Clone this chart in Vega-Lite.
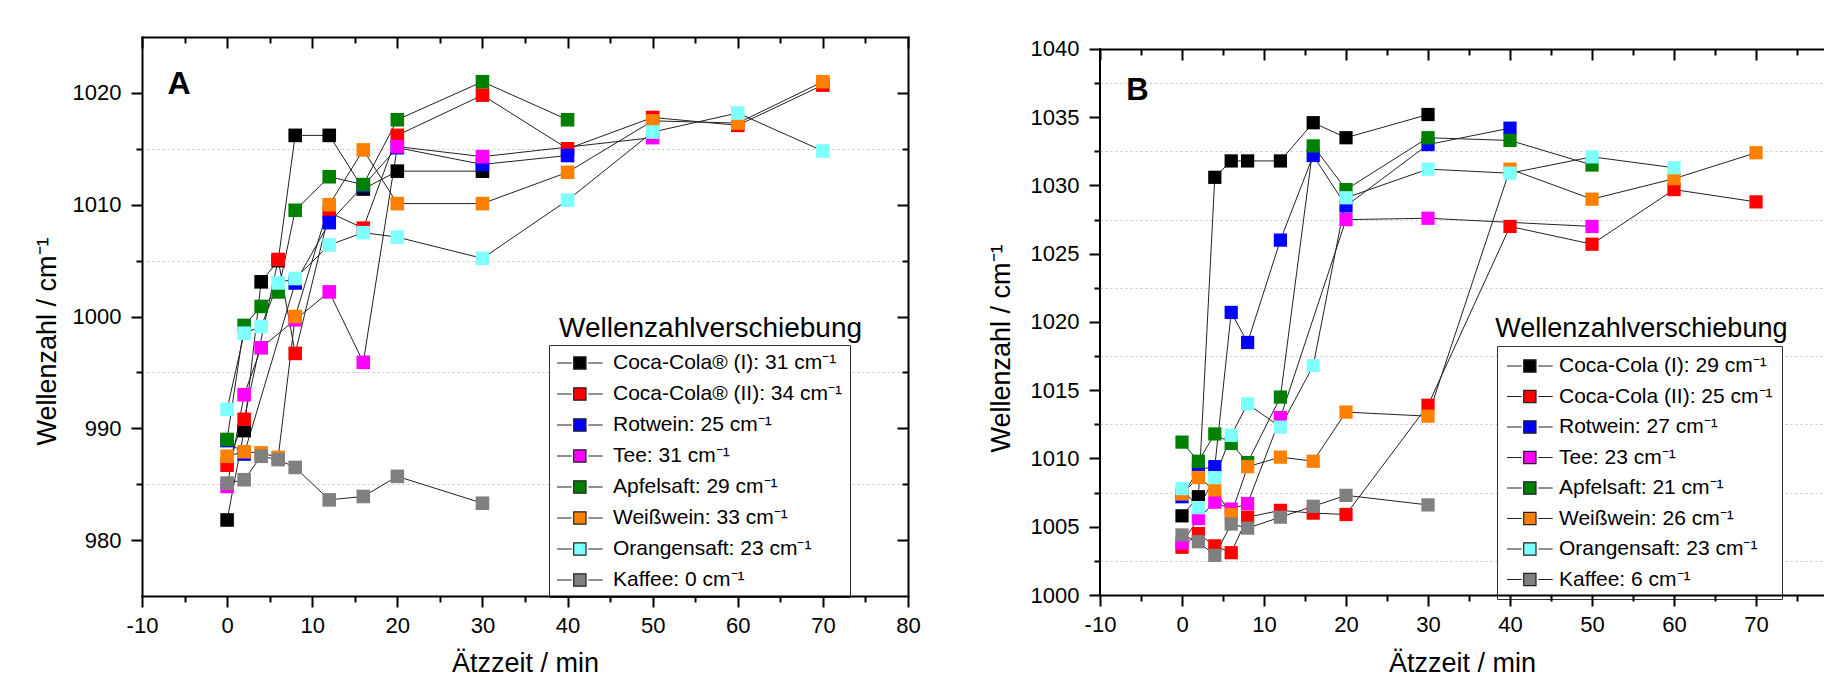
{
  "$schema": "https://vega.github.io/schema/vega-lite/v6.json",
  "usermeta": {"embedOptions": {"actions": false}},
  "background": "white",
  "padding": {"left": 33, "top": 36, "right": 0, "bottom": 0},
  "spacing": 66,
  "bounds": "full",
  "config": {
    "view": {"stroke": null},
    "font": "Liberation Sans",
    "axis": {
      "labelFont": "Liberation Sans", "titleFont": "Liberation Sans",
      "labelColor": "black", "titleColor": "black",
      "domainColor": "black", "domainWidth": 2, "domainCap": "square",
      "tickColor": "black", "tickWidth": 2,
      "labelFontSize": 22, "titleFontSize": 27, "titleFontWeight": "normal",
      "grid": false, "labelOverlap": false, "labelFlush": false
    },
    "legend": {"labelFont": "Liberation Sans"}
  },
  "datasets": {
    "A": [
      {"serie": "Coca-Cola® (I): 31 cm⁻¹", "t": 0, "v": 981.8},
      {"serie": "Coca-Cola® (I): 31 cm⁻¹", "t": 2, "v": 989.8},
      {"serie": "Coca-Cola® (I): 31 cm⁻¹", "t": 4, "v": 1003.1},
      {"serie": "Coca-Cola® (I): 31 cm⁻¹", "t": 6, "v": 1005.0},
      {"serie": "Coca-Cola® (I): 31 cm⁻¹", "t": 8, "v": 1016.2},
      {"serie": "Coca-Cola® (I): 31 cm⁻¹", "t": 12, "v": 1016.2},
      {"serie": "Coca-Cola® (I): 31 cm⁻¹", "t": 16, "v": 1011.4},
      {"serie": "Coca-Cola® (I): 31 cm⁻¹", "t": 20, "v": 1013.0},
      {"serie": "Coca-Cola® (I): 31 cm⁻¹", "t": 30, "v": 1013.0},
      {"serie": "Coca-Cola® (II): 34 cm⁻¹", "t": 0, "v": 986.7},
      {"serie": "Coca-Cola® (II): 34 cm⁻¹", "t": 2, "v": 990.8},
      {"serie": "Coca-Cola® (II): 34 cm⁻¹", "t": 6, "v": 1005.1},
      {"serie": "Coca-Cola® (II): 34 cm⁻¹", "t": 8, "v": 996.7},
      {"serie": "Coca-Cola® (II): 34 cm⁻¹", "t": 12, "v": 1009.3},
      {"serie": "Coca-Cola® (II): 34 cm⁻¹", "t": 16, "v": 1007.9},
      {"serie": "Coca-Cola® (II): 34 cm⁻¹", "t": 20, "v": 1016.2},
      {"serie": "Coca-Cola® (II): 34 cm⁻¹", "t": 30, "v": 1019.8},
      {"serie": "Coca-Cola® (II): 34 cm⁻¹", "t": 40, "v": 1015.0},
      {"serie": "Coca-Cola® (II): 34 cm⁻¹", "t": 50, "v": 1017.8},
      {"serie": "Coca-Cola® (II): 34 cm⁻¹", "t": 60, "v": 1017.1},
      {"serie": "Coca-Cola® (II): 34 cm⁻¹", "t": 70, "v": 1020.7},
      {"serie": "Rotwein: 25 cm⁻¹", "t": 0, "v": 988.9},
      {"serie": "Rotwein: 25 cm⁻¹", "t": 2, "v": 987.7},
      {"serie": "Rotwein: 25 cm⁻¹", "t": 8, "v": 1003.0},
      {"serie": "Rotwein: 25 cm⁻¹", "t": 12, "v": 1008.4},
      {"serie": "Rotwein: 25 cm⁻¹", "t": 16, "v": 1011.7},
      {"serie": "Rotwein: 25 cm⁻¹", "t": 20, "v": 1015.1},
      {"serie": "Rotwein: 25 cm⁻¹", "t": 30, "v": 1013.6},
      {"serie": "Rotwein: 25 cm⁻¹", "t": 40, "v": 1014.4},
      {"serie": "Tee: 31 cm⁻¹", "t": 0, "v": 984.8},
      {"serie": "Tee: 31 cm⁻¹", "t": 2, "v": 993.0},
      {"serie": "Tee: 31 cm⁻¹", "t": 4, "v": 997.2},
      {"serie": "Tee: 31 cm⁻¹", "t": 8, "v": 999.7},
      {"serie": "Tee: 31 cm⁻¹", "t": 12, "v": 1002.2},
      {"serie": "Tee: 31 cm⁻¹", "t": 16, "v": 995.9},
      {"serie": "Tee: 31 cm⁻¹", "t": 20, "v": 1015.2},
      {"serie": "Tee: 31 cm⁻¹", "t": 30, "v": 1014.3},
      {"serie": "Tee: 31 cm⁻¹", "t": 50, "v": 1016.0},
      {"serie": "Apfelsaft: 29 cm⁻¹", "t": 0, "v": 989.0},
      {"serie": "Apfelsaft: 29 cm⁻¹", "t": 2, "v": 999.2},
      {"serie": "Apfelsaft: 29 cm⁻¹", "t": 4, "v": 1000.9},
      {"serie": "Apfelsaft: 29 cm⁻¹", "t": 6, "v": 1002.2},
      {"serie": "Apfelsaft: 29 cm⁻¹", "t": 8, "v": 1009.5},
      {"serie": "Apfelsaft: 29 cm⁻¹", "t": 12, "v": 1012.5},
      {"serie": "Apfelsaft: 29 cm⁻¹", "t": 16, "v": 1011.8},
      {"serie": "Apfelsaft: 29 cm⁻¹", "t": 20, "v": 1017.6},
      {"serie": "Apfelsaft: 29 cm⁻¹", "t": 30, "v": 1021.0},
      {"serie": "Apfelsaft: 29 cm⁻¹", "t": 40, "v": 1017.6},
      {"serie": "Weißwein: 33 cm⁻¹", "t": 0, "v": 987.5},
      {"serie": "Weißwein: 33 cm⁻¹", "t": 2, "v": 987.9},
      {"serie": "Weißwein: 33 cm⁻¹", "t": 4, "v": 987.8},
      {"serie": "Weißwein: 33 cm⁻¹", "t": 6, "v": 987.4},
      {"serie": "Weißwein: 33 cm⁻¹", "t": 8, "v": 1000.0},
      {"serie": "Weißwein: 33 cm⁻¹", "t": 12, "v": 1010.0},
      {"serie": "Weißwein: 33 cm⁻¹", "t": 16, "v": 1014.9},
      {"serie": "Weißwein: 33 cm⁻¹", "t": 20, "v": 1010.1},
      {"serie": "Weißwein: 33 cm⁻¹", "t": 30, "v": 1010.1},
      {"serie": "Weißwein: 33 cm⁻¹", "t": 40, "v": 1012.9},
      {"serie": "Weißwein: 33 cm⁻¹", "t": 50, "v": 1017.5},
      {"serie": "Weißwein: 33 cm⁻¹", "t": 60, "v": 1017.3},
      {"serie": "Weißwein: 33 cm⁻¹", "t": 70, "v": 1021.0},
      {"serie": "Orangensaft: 23 cm⁻¹", "t": 0, "v": 991.7},
      {"serie": "Orangensaft: 23 cm⁻¹", "t": 2, "v": 998.5},
      {"serie": "Orangensaft: 23 cm⁻¹", "t": 4, "v": 999.1},
      {"serie": "Orangensaft: 23 cm⁻¹", "t": 6, "v": 1003.0},
      {"serie": "Orangensaft: 23 cm⁻¹", "t": 8, "v": 1003.4},
      {"serie": "Orangensaft: 23 cm⁻¹", "t": 12, "v": 1006.4},
      {"serie": "Orangensaft: 23 cm⁻¹", "t": 16, "v": 1007.5},
      {"serie": "Orangensaft: 23 cm⁻¹", "t": 20, "v": 1007.1},
      {"serie": "Orangensaft: 23 cm⁻¹", "t": 30, "v": 1005.2},
      {"serie": "Orangensaft: 23 cm⁻¹", "t": 40, "v": 1010.4},
      {"serie": "Orangensaft: 23 cm⁻¹", "t": 50, "v": 1016.5},
      {"serie": "Orangensaft: 23 cm⁻¹", "t": 60, "v": 1018.2},
      {"serie": "Orangensaft: 23 cm⁻¹", "t": 70, "v": 1014.8},
      {"serie": "Kaffee: 0 cm⁻¹", "t": 0, "v": 985.1},
      {"serie": "Kaffee: 0 cm⁻¹", "t": 2, "v": 985.4},
      {"serie": "Kaffee: 0 cm⁻¹", "t": 4, "v": 987.5},
      {"serie": "Kaffee: 0 cm⁻¹", "t": 6, "v": 987.2},
      {"serie": "Kaffee: 0 cm⁻¹", "t": 8, "v": 986.5},
      {"serie": "Kaffee: 0 cm⁻¹", "t": 12, "v": 983.6},
      {"serie": "Kaffee: 0 cm⁻¹", "t": 16, "v": 983.9},
      {"serie": "Kaffee: 0 cm⁻¹", "t": 20, "v": 985.7},
      {"serie": "Kaffee: 0 cm⁻¹", "t": 30, "v": 983.3}
    ],
    "B": [
      {"serie": "Coca-Cola (I): 29 cm⁻¹", "t": 0, "v": 1005.8},
      {"serie": "Coca-Cola (I): 29 cm⁻¹", "t": 2, "v": 1007.2},
      {"serie": "Coca-Cola (I): 29 cm⁻¹", "t": 4, "v": 1030.6},
      {"serie": "Coca-Cola (I): 29 cm⁻¹", "t": 6, "v": 1031.8},
      {"serie": "Coca-Cola (I): 29 cm⁻¹", "t": 8, "v": 1031.8},
      {"serie": "Coca-Cola (I): 29 cm⁻¹", "t": 12, "v": 1031.8},
      {"serie": "Coca-Cola (I): 29 cm⁻¹", "t": 16, "v": 1034.6},
      {"serie": "Coca-Cola (I): 29 cm⁻¹", "t": 20, "v": 1033.5},
      {"serie": "Coca-Cola (I): 29 cm⁻¹", "t": 30, "v": 1035.2},
      {"serie": "Coca-Cola (II): 25 cm⁻¹", "t": 0, "v": 1003.5},
      {"serie": "Coca-Cola (II): 25 cm⁻¹", "t": 2, "v": 1004.5},
      {"serie": "Coca-Cola (II): 25 cm⁻¹", "t": 4, "v": 1003.6},
      {"serie": "Coca-Cola (II): 25 cm⁻¹", "t": 6, "v": 1003.1},
      {"serie": "Coca-Cola (II): 25 cm⁻¹", "t": 8, "v": 1005.7},
      {"serie": "Coca-Cola (II): 25 cm⁻¹", "t": 12, "v": 1006.2},
      {"serie": "Coca-Cola (II): 25 cm⁻¹", "t": 16, "v": 1006.0},
      {"serie": "Coca-Cola (II): 25 cm⁻¹", "t": 20, "v": 1005.9},
      {"serie": "Coca-Cola (II): 25 cm⁻¹", "t": 30, "v": 1013.9},
      {"serie": "Coca-Cola (II): 25 cm⁻¹", "t": 40, "v": 1027.0},
      {"serie": "Coca-Cola (II): 25 cm⁻¹", "t": 50, "v": 1025.7},
      {"serie": "Coca-Cola (II): 25 cm⁻¹", "t": 60, "v": 1029.7},
      {"serie": "Coca-Cola (II): 25 cm⁻¹", "t": 70, "v": 1028.8},
      {"serie": "Rotwein: 27 cm⁻¹", "t": 0, "v": 1007.2},
      {"serie": "Rotwein: 27 cm⁻¹", "t": 2, "v": 1009.2},
      {"serie": "Rotwein: 27 cm⁻¹", "t": 4, "v": 1009.4},
      {"serie": "Rotwein: 27 cm⁻¹", "t": 6, "v": 1020.7},
      {"serie": "Rotwein: 27 cm⁻¹", "t": 8, "v": 1018.5},
      {"serie": "Rotwein: 27 cm⁻¹", "t": 12, "v": 1026.0},
      {"serie": "Rotwein: 27 cm⁻¹", "t": 16, "v": 1032.2},
      {"serie": "Rotwein: 27 cm⁻¹", "t": 20, "v": 1028.5},
      {"serie": "Rotwein: 27 cm⁻¹", "t": 30, "v": 1033.0},
      {"serie": "Rotwein: 27 cm⁻¹", "t": 40, "v": 1034.2},
      {"serie": "Tee: 23 cm⁻¹", "t": 0, "v": 1003.8},
      {"serie": "Tee: 23 cm⁻¹", "t": 2, "v": 1005.6},
      {"serie": "Tee: 23 cm⁻¹", "t": 4, "v": 1006.8},
      {"serie": "Tee: 23 cm⁻¹", "t": 6, "v": 1006.3},
      {"serie": "Tee: 23 cm⁻¹", "t": 8, "v": 1006.7},
      {"serie": "Tee: 23 cm⁻¹", "t": 12, "v": 1013.0},
      {"serie": "Tee: 23 cm⁻¹", "t": 20, "v": 1027.5},
      {"serie": "Tee: 23 cm⁻¹", "t": 30, "v": 1027.6},
      {"serie": "Tee: 23 cm⁻¹", "t": 50, "v": 1027.0},
      {"serie": "Apfelsaft: 21 cm⁻¹", "t": 0, "v": 1011.2},
      {"serie": "Apfelsaft: 21 cm⁻¹", "t": 2, "v": 1009.8},
      {"serie": "Apfelsaft: 21 cm⁻¹", "t": 4, "v": 1011.8},
      {"serie": "Apfelsaft: 21 cm⁻¹", "t": 6, "v": 1011.1},
      {"serie": "Apfelsaft: 21 cm⁻¹", "t": 8, "v": 1009.7},
      {"serie": "Apfelsaft: 21 cm⁻¹", "t": 12, "v": 1014.5},
      {"serie": "Apfelsaft: 21 cm⁻¹", "t": 16, "v": 1032.9},
      {"serie": "Apfelsaft: 21 cm⁻¹", "t": 20, "v": 1029.7},
      {"serie": "Apfelsaft: 21 cm⁻¹", "t": 30, "v": 1033.5},
      {"serie": "Apfelsaft: 21 cm⁻¹", "t": 40, "v": 1033.3},
      {"serie": "Apfelsaft: 21 cm⁻¹", "t": 50, "v": 1031.5},
      {"serie": "Weißwein: 26 cm⁻¹", "t": 0, "v": 1007.4},
      {"serie": "Weißwein: 26 cm⁻¹", "t": 2, "v": 1008.6},
      {"serie": "Weißwein: 26 cm⁻¹", "t": 4, "v": 1007.7},
      {"serie": "Weißwein: 26 cm⁻¹", "t": 6, "v": 1005.9},
      {"serie": "Weißwein: 26 cm⁻¹", "t": 8, "v": 1009.4},
      {"serie": "Weißwein: 26 cm⁻¹", "t": 12, "v": 1010.1},
      {"serie": "Weißwein: 26 cm⁻¹", "t": 16, "v": 1009.8},
      {"serie": "Weißwein: 26 cm⁻¹", "t": 20, "v": 1013.4},
      {"serie": "Weißwein: 26 cm⁻¹", "t": 30, "v": 1013.1},
      {"serie": "Weißwein: 26 cm⁻¹", "t": 40, "v": 1031.2},
      {"serie": "Weißwein: 26 cm⁻¹", "t": 50, "v": 1029.0},
      {"serie": "Weißwein: 26 cm⁻¹", "t": 60, "v": 1030.5},
      {"serie": "Weißwein: 26 cm⁻¹", "t": 70, "v": 1032.4},
      {"serie": "Orangensaft: 23 cm⁻¹", "t": 0, "v": 1007.8},
      {"serie": "Orangensaft: 23 cm⁻¹", "t": 2, "v": 1006.4},
      {"serie": "Orangensaft: 23 cm⁻¹", "t": 4, "v": 1008.6},
      {"serie": "Orangensaft: 23 cm⁻¹", "t": 6, "v": 1011.7},
      {"serie": "Orangensaft: 23 cm⁻¹", "t": 8, "v": 1014.0},
      {"serie": "Orangensaft: 23 cm⁻¹", "t": 12, "v": 1012.3},
      {"serie": "Orangensaft: 23 cm⁻¹", "t": 16, "v": 1016.8},
      {"serie": "Orangensaft: 23 cm⁻¹", "t": 20, "v": 1029.1},
      {"serie": "Orangensaft: 23 cm⁻¹", "t": 30, "v": 1031.2},
      {"serie": "Orangensaft: 23 cm⁻¹", "t": 40, "v": 1030.9},
      {"serie": "Orangensaft: 23 cm⁻¹", "t": 50, "v": 1032.1},
      {"serie": "Orangensaft: 23 cm⁻¹", "t": 60, "v": 1031.3},
      {"serie": "Kaffee: 6 cm⁻¹", "t": 0, "v": 1004.4},
      {"serie": "Kaffee: 6 cm⁻¹", "t": 2, "v": 1003.9},
      {"serie": "Kaffee: 6 cm⁻¹", "t": 4, "v": 1002.9},
      {"serie": "Kaffee: 6 cm⁻¹", "t": 6, "v": 1005.2},
      {"serie": "Kaffee: 6 cm⁻¹", "t": 8, "v": 1004.9},
      {"serie": "Kaffee: 6 cm⁻¹", "t": 12, "v": 1005.7},
      {"serie": "Kaffee: 6 cm⁻¹", "t": 16, "v": 1006.5},
      {"serie": "Kaffee: 6 cm⁻¹", "t": 20, "v": 1007.3},
      {"serie": "Kaffee: 6 cm⁻¹", "t": 30, "v": 1006.6}
    ]
  },
  "hconcat": [
    {
      "width": 766,
      "height": 559,
      "data": {"name": "A"},
      "resolve": {"axis": {"x": "independent", "y": "independent"}},
      "layer": [
        {
          "mark": {"type": "line", "color": "#222222", "strokeWidth": 1, "clip": true},
          "encoding": {
            "x": {"field": "t", "type": "quantitative", "scale": {"domain": [-10, 80], "nice": false, "zero": false},
              "axis": {"orient": "bottom", "zindex": 1, "values": [-10, -5, 0, 5, 10, 15, 20, 25, 30, 35, 40, 45, 50, 55, 60, 65, 70, 75, 80],
                "labelExpr": "datum.value % 10 === 0 ? '' + datum.value : ''",
                "tickSize": {"condition": {"test": "datum.value % 10 === 0", "value": 11}, "value": 6},
                "labelPadding": 8, "title": "Ätzzeit / min", "titleY": 75, "titleBaseline": "alphabetic"}},
            "y": {"field": "v", "type": "quantitative", "scale": {"domain": [975, 1025], "nice": false, "zero": false},
              "axis": {"orient": "left", "values": [980, 985, 990, 995, 1000, 1005, 1010, 1015, 1020],
                "labelExpr": "datum.value % 10 === 0 ? '' + datum.value : ''",
                "tickSize": {"condition": {"test": "datum.value % 10 === 0", "value": 11}, "value": 6},
                "labelPadding": 10, "grid": true, "gridColor": "#c4c4c4", "gridDash": [2, 3], "gridWidth": 1,
                "gridOpacity": {"condition": {"test": "datum.value % 10 === 0", "value": 0}, "value": 1},
                "title": "Wellenzahl / cm⁻¹", "titleX": -81, "titleY": 304}},
            "detail": {"field": "serie"}
          }
        },
        {
          "mark": {"type": "point", "shape": "square", "filled": true, "size": 185, "opacity": 1},
          "encoding": {
            "x": {"field": "t", "type": "quantitative", "scale": {"domain": [-10, 80], "nice": false, "zero": false},
              "axis": {"orient": "top", "values": [-10, -5, 0, 5, 10, 15, 20, 25, 30, 35, 40, 45, 50, 55, 60, 65, 70, 75, 80],
                "labels": false, "title": null,
                "tickSize": {"condition": {"test": "datum.value % 10 === 0", "value": -11}, "value": -6}}},
            "y": {"field": "v", "type": "quantitative", "scale": {"domain": [975, 1025], "nice": false, "zero": false},
              "axis": {"orient": "right", "values": [980, 985, 990, 995, 1000, 1005, 1010, 1015, 1020],
                "labels": false, "title": null,
                "tickSize": {"condition": {"test": "datum.value % 10 === 0", "value": -11}, "value": -6}}},
            "color": {"field": "serie", "type": "nominal",
              "scale": {"domain": ["Coca-Cola® (I): 31 cm⁻¹", "Coca-Cola® (II): 34 cm⁻¹", "Rotwein: 25 cm⁻¹", "Tee: 31 cm⁻¹", "Apfelsaft: 29 cm⁻¹", "Weißwein: 33 cm⁻¹", "Orangensaft: 23 cm⁻¹", "Kaffee: 0 cm⁻¹"],
                "range": ["#000000", "#ff0000", "#0000ff", "#ff00ff", "#008000", "#ff8000", "#80ffff", "#808080"]},
              "legend": {"orient": "none", "legendX": 407, "legendY": 308, "title": null,
                "symbolType": "M-1,0H0.47M2.13,0H3.57M0.67,-0.615H1.9V0.615H0.67Z", "symbolSize": 400,
                "symbolStrokeColor": "#222222", "symbolStrokeWidth": 1.2, "symbolOpacity": 1,
                "labelFontSize": 21, "labelColor": "black", "labelLimit": 400, "labelOffset": 35,
                "rowPadding": 10, "padding": 7, "strokeColor": "#333333", "fillColor": "white"}}
          }
        },
        {
          "data": {"values": [{"k": "A"}]},
          "mark": {"type": "text", "text": "A", "font": "Liberation Sans", "fontSize": 32, "fontWeight": "bold", "align": "left", "baseline": "alphabetic", "color": "black"},
          "encoding": {
            "x": {"datum": -7, "type": "quantitative", "axis": null},
            "y": {"datum": 1019.9, "type": "quantitative", "axis": null}
          }
        },
        {
          "data": {"values": [{"k": "t"}]},
          "mark": {"type": "text", "text": "Wellenzahlverschiebung", "font": "Liberation Sans", "fontSize": 28, "align": "left", "baseline": "alphabetic", "color": "black"},
          "encoding": {
            "x": {"datum": 39.0, "type": "quantitative", "axis": null},
            "y": {"datum": 998.2, "type": "quantitative", "axis": null}
          }
        }
      ]
    },
    {
      "width": 724,
      "height": 558,
      "data": {"name": "B"},
      "resolve": {"axis": {"x": "independent", "y": "independent"}},
      "layer": [
        {
          "mark": {"type": "line", "color": "#222222", "strokeWidth": 1, "clip": true},
          "encoding": {
            "x": {"field": "t", "type": "quantitative", "scale": {"domain": [-10, 78.29], "nice": false, "zero": false},
              "axis": {"orient": "bottom", "zindex": 1, "values": [-10, -5, 0, 5, 10, 15, 20, 25, 30, 35, 40, 45, 50, 55, 60, 65, 70, 75],
                "labelExpr": "datum.value % 10 === 0 ? '' + datum.value : ''",
                "tickSize": {"condition": {"test": "datum.value % 10 === 0", "value": 11}, "value": 6},
                "labelPadding": 8, "title": "Ätzzeit / min", "titleY": 76, "titleBaseline": "alphabetic"}},
            "y": {"field": "v", "type": "quantitative", "scale": {"domain": [1000, 1040.879], "nice": false, "zero": false},
              "axis": {"orient": "left", "domain": false, "values": [1000, 1002.5, 1005, 1007.5, 1010, 1012.5, 1015, 1017.5, 1020, 1022.5, 1025, 1027.5, 1030, 1032.5, 1035, 1037.5, 1040],
                "labelExpr": "datum.value % 5 === 0 ? '' + datum.value : ''",
                "tickSize": {"condition": {"test": "datum.value % 5 === 0", "value": 11}, "value": 6},
                "labelPadding": 10, "grid": true, "gridColor": "#c4c4c4", "gridDash": [2, 3], "gridWidth": 1,
                "gridOpacity": {"condition": {"test": "datum.value % 5 === 0", "value": 0}, "value": 1},
                "title": "Wellenzahl / cm⁻¹", "titleX": -85, "titleY": 311}},
            "detail": {"field": "serie"}
          }
        },
        {
          "mark": {"type": "point", "shape": "square", "filled": true, "size": 175, "opacity": 1},
          "encoding": {
            "x": {"field": "t", "type": "quantitative", "scale": {"domain": [-10, 78.29], "nice": false, "zero": false},
              "axis": {"orient": "top", "offset": -12, "values": [-10, -5, 0, 5, 10, 15, 20, 25, 30, 35, 40, 45, 50, 55, 60, 65, 70, 75],
                "labels": false, "title": null,
                "tickSize": {"condition": {"test": "datum.value % 10 === 0", "value": -11}, "value": -6}}},
            "y": {"field": "v", "type": "quantitative", "scale": {"domain": [1000, 1040.879], "nice": false, "zero": false}, "axis": null},
            "color": {"field": "serie", "type": "nominal",
              "scale": {"domain": ["Coca-Cola (I): 29 cm⁻¹", "Coca-Cola (II): 25 cm⁻¹", "Rotwein: 27 cm⁻¹", "Tee: 23 cm⁻¹", "Apfelsaft: 21 cm⁻¹", "Weißwein: 26 cm⁻¹", "Orangensaft: 23 cm⁻¹", "Kaffee: 6 cm⁻¹"],
                "range": ["#000000", "#ff0000", "#0000ff", "#ff00ff", "#008000", "#ff8000", "#80ffff", "#808080"]},
              "legend": {"orient": "none", "legendX": 397, "legendY": 309, "title": null,
                "symbolType": "M-1,0H0.47M2.13,0H3.57M0.67,-0.615H1.9V0.615H0.67Z", "symbolSize": 400,
                "symbolStrokeColor": "#222222", "symbolStrokeWidth": 1.2, "symbolOpacity": 1,
                "labelFontSize": 21, "labelColor": "black", "labelLimit": 400, "labelOffset": 31,
                "rowPadding": 9.5, "padding": 9, "strokeColor": "#333333", "fillColor": "white"}}
          }
        },
        {
          "data": {"values": [{"k": "frame"}]},
          "mark": {"type": "rule", "color": "black", "strokeWidth": 2, "strokeCap": "square"},
          "encoding": {
            "x": {"datum": -10, "type": "quantitative", "axis": null},
            "y": {"datum": 1000, "type": "quantitative", "axis": null},
            "y2": {"datum": 1040}
          }
        },
        {
          "data": {"values": [{"k": "B"}]},
          "mark": {"type": "text", "text": "B", "font": "Liberation Sans", "fontSize": 31, "fontWeight": "bold", "align": "left", "baseline": "alphabetic", "color": "black"},
          "encoding": {
            "x": {"datum": -6.8, "type": "quantitative", "axis": null},
            "y": {"datum": 1036.3, "type": "quantitative", "axis": null}
          }
        },
        {
          "data": {"values": [{"k": "t"}]},
          "mark": {"type": "text", "text": "Wellenzahlverschiebung", "font": "Liberation Sans", "fontSize": 27, "align": "left", "baseline": "alphabetic", "color": "black"},
          "encoding": {
            "x": {"datum": 38.2, "type": "quantitative", "axis": null},
            "y": {"datum": 1018.9, "type": "quantitative", "axis": null}
          }
        }
      ]
    }
  ],
  "resolve": {"scale": {"color": "independent", "x": "independent", "y": "independent"}}
}
